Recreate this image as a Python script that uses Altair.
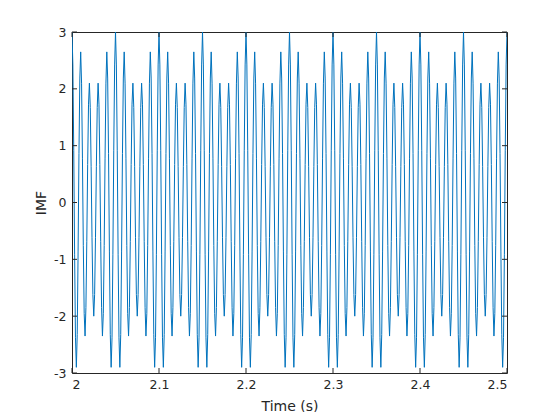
import altair as alt
import pandas as pd

# One 50-sample period of the IMF (sampled at 1 kHz), read from the plot:
# peaks 3 / 2.65 / 2.1, troughs -2.9 / -2.35 / -2.0, repeating every 0.05 s
period_values = [3.00, 2.42, 0.92, -0.92, -2.38, -2.90, -2.32, -0.87, 0.86, 2.19,
                 2.65, 2.10, 0.78, -0.76, -1.95, -2.35, -1.85, -0.69, 0.67, 1.73,
                 2.10, 1.67, 0.63, -0.62, -1.62, -2.00, -1.62, -0.62, 0.63, 1.67,
                 2.10, 1.73, 0.67, -0.69, -1.85, -2.35, -1.95, -0.76, 0.78, 2.10,
                 2.65, 2.19, 0.86, -0.87, -2.32, -2.90, -2.38, -0.92, 0.92, 2.42]
n_periods = 10
t_start = 2.0
fs = 1000

x_ticks = [2, 2.1, 2.2, 2.3, 2.4, 2.5]
y_ticks = [-3, -2, -1, 0, 1, 2, 3]

imf = period_values * n_periods + [period_values[0]]
time = [round(t_start + i / fs, 3) for i in range(len(imf))]
df = pd.DataFrame({"time": time, "imf": imf})

W, H = 435, 341
TEXT = "#262626"
FONT = "DejaVu Sans"
TL = 5

xscale = alt.Scale(domain=[2, 2.5], nice=False, zero=False)
yscale = alt.Scale(domain=[-3, 3], nice=False, zero=False)

xaxis = alt.Axis(values=x_ticks, labelExpr="'' + datum.value", ticks=False,
                 domain=False, grid=False, title="Time (s)", labelPadding=5,
                 titleX=W / 2, titleY=33, titleAlign="center", titleBaseline="middle",
                 titleFontWeight="normal")
yaxis = alt.Axis(values=y_ticks, labelExpr="'' + datum.value", ticks=False,
                 domain=False, grid=False, title="IMF", labelPadding=6,
                 titleX=-31, titleY=H / 2, titleAlign="center",
                 titleBaseline="middle", titleAngle=-90, titleFontWeight="normal")

line = alt.Chart(df).mark_line(color="#0072BD", strokeWidth=1, clip=True).encode(
    x=alt.X("time:Q", scale=xscale, axis=xaxis),
    y=alt.Y("imf:Q", scale=yscale, axis=yaxis),
)

xt = pd.DataFrame({"time": x_ticks})
yt = pd.DataFrame({"imf": y_ticks})

bottom_ticks = alt.Chart(xt).mark_rule(color=TEXT, strokeWidth=1).encode(
    x=alt.X("time:Q", scale=xscale, axis=xaxis), y=alt.value(H), y2=alt.value(H - TL))
top_ticks = alt.Chart(xt).mark_rule(color=TEXT, strokeWidth=1).encode(
    x=alt.X("time:Q", scale=xscale, axis=xaxis), y=alt.value(0), y2=alt.value(TL))
left_ticks = alt.Chart(yt).mark_rule(color=TEXT, strokeWidth=1).encode(
    y=alt.Y("imf:Q", scale=yscale, axis=yaxis), x=alt.value(0), x2=alt.value(TL))
right_ticks = alt.Chart(yt).mark_rule(color=TEXT, strokeWidth=1).encode(
    y=alt.Y("imf:Q", scale=yscale, axis=yaxis), x=alt.value(W), x2=alt.value(W - TL))

chart = alt.layer(line, bottom_ticks, top_ticks, left_ticks, right_ticks).properties(
    width=W, height=H,
    autosize=alt.AutoSizeParams(type="none"),
    padding={"left": 64, "top": 24, "right": 45, "bottom": 39},
    background="white",
).configure_view(
    stroke=TEXT, strokeWidth=1
).configure_axis(
    labelFont=FONT, labelFontSize=12.5, labelColor=TEXT,
    titleFont=FONT, titleFontSize=14, titleFontWeight="normal", titleColor=TEXT,
)

chart.save("out.html", embed_options={"renderer": "svg", "actions": False})
